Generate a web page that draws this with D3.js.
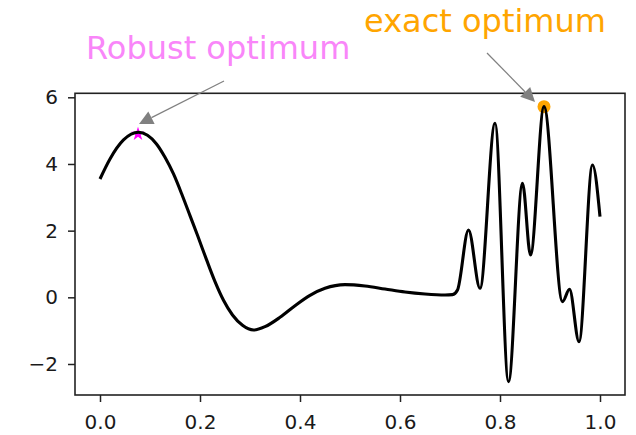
<!DOCTYPE html>
<html>
<head>
<meta charset="utf-8">
<script src="https://cdn.jsdelivr.net/npm/d3@7"></script>
<style>
  body { margin: 0; background: #fff; }
  svg { display: block; font-family: "DejaVu Sans", sans-serif; }
</style>
</head>
<body>
<svg class="chart" width="636" height="435"></svg>
<script>
// curve, x in [0,1]
var xs = [0, 0.02, 0.047, 0.077, 0.095, 0.113, 0.13, 0.147, 0.165, 0.18, 0.195, 0.213, 0.23, 0.247, 0.265, 0.285, 0.307, 0.33, 0.36, 0.39, 0.42, 0.45, 0.49, 0.53, 0.57, 0.61, 0.65, 0.69, 0.705, 0.715, 0.737, 0.76, 0.79, 0.817, 0.845, 0.861, 0.888, 0.925, 0.939, 0.958, 0.985, 1.0];
var ys = [3.55, 4.15, 4.72, 4.95, 4.86, 4.6, 4.2, 3.7, 3.04, 2.45, 1.86, 1.13, 0.47, -0.09, -0.53, -0.84, -0.98, -0.88, -0.6, -0.25, 0.06, 0.27, 0.38, 0.34, 0.25, 0.16, 0.1, 0.07, 0.08, 0.22, 2.02, 0.27, 5.22, -2.53, 3.42, 1.27, 5.72, -0.13, 0.24, -1.33, 3.97, 2.42];

var xTicks = [0.0, 0.2, 0.4, 0.6, 0.8, 1.0];
var yTicks = [-2, 0, 2, 4, 6];

// markers: [x, y]
var robustPoint = [0.076, 4.9];
var exactPoint = [0.888, 5.72];

// annotations: label, text anchor, arrow tail, arrow tip (data coords)
var labels = ["Robust optimum", "exact optimum"];
var labelAt = [[-0.028, 7.15], [0.528, 7.96]];
var arrowFrom = [[0.248, 6.49], [0.774, 7.33]];
var arrowTo = [[0.078, 5.2], [0.87, 5.86]];
var labelColors = ["#f986f9", "#ffa500"];

var svg = d3.select("svg.chart");

var x = d3.scaleLinear().domain([-0.05, 1.05]).range([75, 625]);
var y = d3.scaleLinear().domain([-2.93, 6.12]).range([395, 93.3]);

var data = xs.map(function(d, i) { return { x: d, y: ys[i] }; });

// axes
var gx = svg.append("g")
  .attr("transform", "translate(0," + y.range()[0] + ")")
  .call(d3.axisBottom(x).tickValues(xTicks).tickFormat(d3.format(".1f")).tickSize(7).tickSizeOuter(0).tickPadding(13));
var gy = svg.append("g")
  .attr("transform", "translate(" + x.range()[0] + ",0)")
  .call(d3.axisLeft(y).tickValues(yTicks).tickFormat(function(d) { return d < 0 ? "\u2212" + Math.abs(d) : d; }).tickSize(7).tickSizeOuter(0).tickPadding(10));

[gx, gy].forEach(function(g) {
  g.select(".domain").remove();
  g.selectAll(".tick line").attr("stroke", "#222").attr("stroke-width", 1.5);
  g.selectAll(".tick text").attr("fill", "#1a1a1a").style("font-size", "20px").style("font-family", "DejaVu Sans");
});

// markers sit under the curve
svg.append("path")
  .attr("d", d3.symbol().type(d3.symbolStar).size(60)())
  .attr("transform", "translate(" + x(robustPoint[0]) + "," + y(robustPoint[1]) + ")")
  .attr("fill", "#ff00ff");

svg.append("circle")
  .attr("cx", x(exactPoint[0]))
  .attr("cy", y(exactPoint[1]))
  .attr("r", 6.5)
  .attr("fill", "#ffa500");

var line = d3.line()
  .curve(d3.curveMonotoneX)
  .x(function(d) { return x(d.x); })
  .y(function(d) { return y(d.y); });

svg.append("path")
  .datum(data)
  .attr("d", line)
  .attr("fill", "none")
  .attr("stroke", "#000")
  .attr("stroke-width", 3.1)
  .attr("stroke-linejoin", "round");

// frame
svg.append("rect")
  .attr("x", x.range()[0])
  .attr("y", y.range()[1])
  .attr("width", x.range()[1] - x.range()[0])
  .attr("height", y.range()[0] - y.range()[1])
  .attr("fill", "none")
  .attr("stroke", "#222")
  .attr("stroke-width", 1.6);

// annotations with gray arrows
labels.forEach(function(t, i) {
  var x0 = x(arrowFrom[i][0]), y0 = y(arrowFrom[i][1]);
  var x1 = x(arrowTo[i][0]), y1 = y(arrowTo[i][1]);
  var dx = x1 - x0, dy = y1 - y0, len = Math.sqrt(dx * dx + dy * dy);
  var ux = dx / len, uy = dy / len;
  var hl = 14, hw = 7;
  var bx = x1 - ux * hl, by = y1 - uy * hl;

  svg.append("line")
    .attr("x1", x0).attr("y1", y0)
    .attr("x2", bx).attr("y2", by)
    .attr("stroke", "#808080")
    .attr("stroke-width", 1.2);

  svg.append("path")
    .attr("d", "M" + x1 + "," + y1 + "L" + (bx - uy * hw) + "," + (by + ux * hw) + "L" + (bx + uy * hw) + "," + (by - ux * hw) + "Z")
    .attr("fill", "#808080");

  svg.append("text")
    .attr("x", x(labelAt[i][0]))
    .attr("y", y(labelAt[i][1]))
    .attr("fill", labelColors[i])
    .style("font-size", "32px")
    .text(t);
});
</script>
</body>
</html>
